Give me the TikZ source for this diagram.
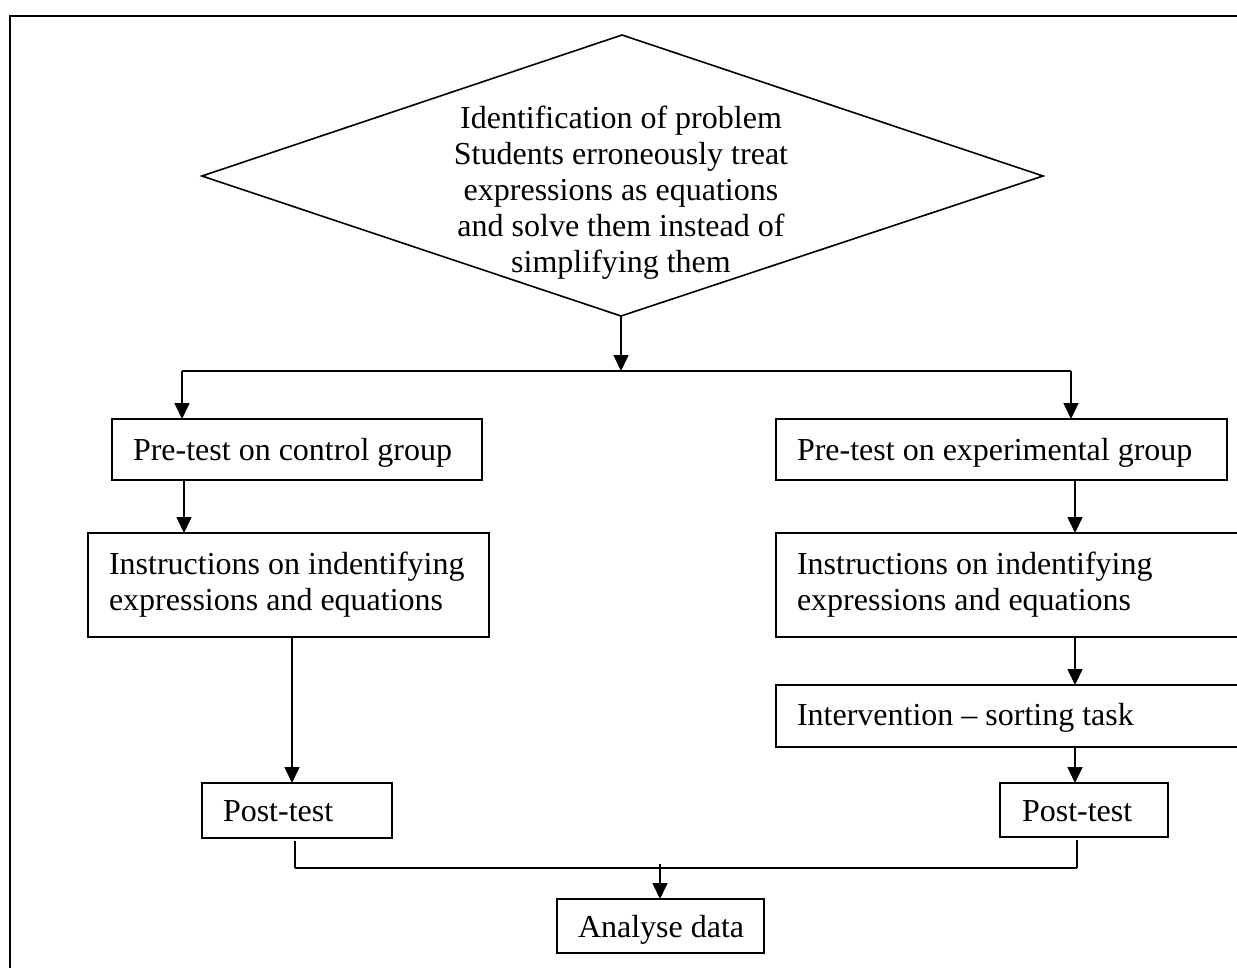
\documentclass[tikz,border=0pt]{standalone}
\usepackage{fontspec}
\setmainfont{Liberation Serif}
\usetikzlibrary{arrows.meta}
\newcommand\diafont{\fontsize{32}{36}\selectfont}
\begin{document}
\begin{tikzpicture}[x=1pt,y=-1pt,
  box/.style={draw, line width=1.8pt, outer sep=0pt, inner xsep=21pt, inner ysep=0pt,
    anchor=north west, align=flush left, font=\diafont},
  single/.style={text height=28pt, text depth=6pt},
  arr/.style={-{Triangle[length=16pt,width=15pt]}, line width=1.6pt},
  conn/.style={line width=1.6pt},
  tick/.style={line width=1.2pt},
  joinline/.style={line width=2.4pt}]
\useasboundingbox (0,0) rectangle (1237,967);
\clip (0,0) rectangle (1237,967);
\fill[white] (0,0) rectangle (1237,967);
% outer frame
\draw[line width=2.2pt] (10,1000) -- (10,16) -- (1260,16);
% diamond
\coordinate (dT) at (622,35);
\coordinate (dR) at (1043,176);
\coordinate (dB) at (621,316);
\coordinate (dL) at (202,176);
\draw[line width=1.6pt, line join=miter] (dT) -- (dR) -- (dB) -- (dL) -- cycle;
\node[font=\diafont, align=center, inner sep=0pt] (prob) at (621,193)
  {Identification of problem\\Students erroneously treat\\expressions as equations\\and solve them instead of\\simplifying them};
% boxes
\node[box, single, minimum width=370pt, minimum height=61pt, text width=328pt] (preC) at (112,419) {\mbox{Pre-test on control group}};
\node[box, minimum width=401pt, minimum height=104pt, text width=359pt] (instrC) at (88,533) {\mbox{Instructions on indentifying}\\\mbox{expressions and equations}};
\node[box, single, minimum width=190pt, minimum height=55pt, text width=148pt] (postC) at (202,783) {\mbox{Post-test}};
\node[box, single, minimum width=451pt, minimum height=61pt, text width=409pt] (preE) at (776,419) {\mbox{Pre-test on experimental group}};
\node[box, minimum width=484pt, minimum height=104pt, text width=442pt] (instrE) at (776,533) {\mbox{Instructions on indentifying}\\\mbox{expressions and equations}};
\node[box, text height=25pt, text depth=6pt, minimum width=484pt, minimum height=62pt, text width=442pt] (interv) at (776,685) {\mbox{Intervention -- sorting task}};
\node[box, single, inner xsep=22pt, minimum width=168pt, minimum height=54pt, text width=124pt] (postE) at (1000,783) {\mbox{Post-test}};
\node[box, single, minimum width=207pt, minimum height=54pt, text width=165pt] (analyse) at (557,899) {\mbox{Analyse data}};
% connectors
\coordinate (split) at (621,371);
\coordinate (splL) at (182,371);
\coordinate (splR) at (1071,371);
\draw[arr] (dB) -- (split);
\draw[conn] (splL) -- (splR);
\draw[arr] (splL) -- (splL |- preC.north);
\draw[arr] (splR) -- (splR |- preE.north);
\draw[arr] ([xshift=72pt]preC.south west) -- ([xshift=96pt]instrC.north west);
\draw[arr] ([xshift=204pt]instrC.south west) -- ([xshift=90pt]postC.north west);
\draw[arr] ([xshift=299pt]preE.south west) -- ([xshift=299pt]instrE.north west);
\draw[arr] ([xshift=299pt]instrE.south west) -- ([xshift=299pt]interv.north west);
\draw[arr] ([xshift=299pt]interv.south west) -- ([xshift=75pt]postE.north west);
% join to analyse
\coordinate (jL) at (295,868);
\coordinate (jR) at (1077,868);
\coordinate (jM) at (660,864);
\draw[tick] ([xshift=93pt,yshift=-3pt]postC.south west) -- (jL);
\draw[tick] ([xshift=77pt,yshift=-3pt]postE.south west) -- (jR);
\draw[joinline] (jL) -- (jR);
\draw[arr] (jM) -- (jM |- analyse.north);
\end{tikzpicture}
\end{document}
